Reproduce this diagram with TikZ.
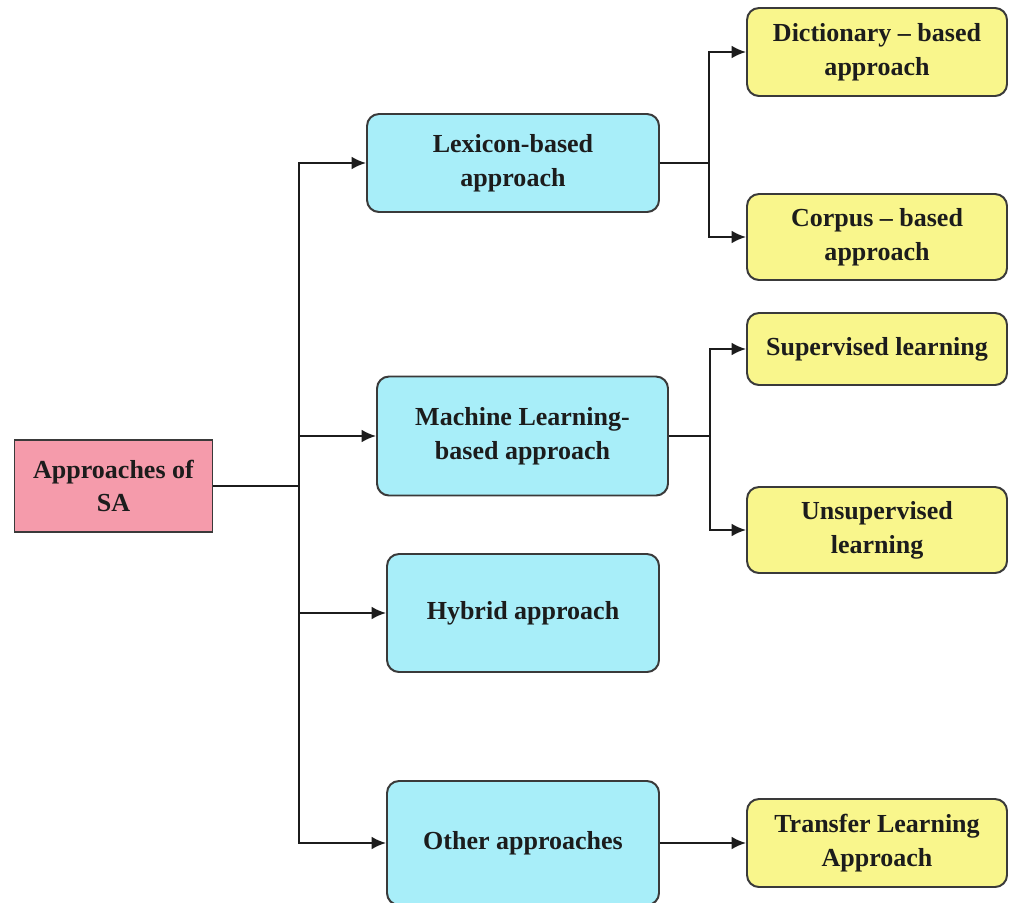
\documentclass[tikz,border=0pt]{standalone}
\usepackage{fontspec}
\setmainfont{Liberation Serif}
\usetikzlibrary{arrows.meta}

\definecolor{rootpink}{HTML}{F59BAB}
\definecolor{midcyan}{HTML}{A8EEF9}
\definecolor{leafyellow}{HTML}{F9F68C}
\definecolor{edgegray}{HTML}{3A3A3A}
\definecolor{inkdark}{HTML}{1C1C1C}

\tikzset{
  basebox/.style={draw=edgegray, line width=1.4pt, align=center, inner sep=0pt,
    text=inkdark, font=\fontsize{18.5}{24}\selectfont\bfseries},
  rootbox/.style={basebox, fill=rootpink},
  midbox/.style={basebox, fill=midcyan, rounded corners=3mm},
  leafbox/.style={basebox, fill=leafyellow, rounded corners=3mm,
    minimum width=65mm},
  link/.style={draw=inkdark, line width=1.5pt},
  arr/.style={link, -{Latex[length=3.6mm,width=3.2mm]}}
}

\begin{document}
\begin{tikzpicture}[x=0.25mm, y=-0.25mm]
  \useasboundingbox (0,0) rectangle (1020,902);
  \fill[white] (0,0) rectangle (1020,902);
  \clip (0,0) rectangle (1020,902);

  % root
  \node[rootbox, minimum width=49.5mm, minimum height=23mm] (root) at (113.5,486)
    {Approaches of\\SA};

  % second level
  \node[midbox, minimum width=73mm, minimum height=24.5mm] (lex) at (513,163)
    {Lexicon-based\\approach};
  \node[midbox, minimum width=72.75mm, minimum height=29.75mm] (ml) at (522.5,436)
    {Machine Learning-\\based approach};
  \node[midbox, minimum width=68mm, minimum height=29.5mm] (hyb) at (523,613)
    {Hybrid approach};
  \node[midbox, minimum width=68mm, minimum height=31mm] (oth) at (523,843)
    {Other approaches};

  % leaves
  \node[leafbox, minimum height=22mm] (dict) at (877,52)
    {Dictionary -- based\\approach};
  \node[leafbox, minimum height=21.5mm] (corp) at (877,237)
    {Corpus -- based\\approach};
  \node[leafbox, minimum height=18mm] (sup) at (877,349)
    {Supervised learning};
  \node[leafbox, minimum height=21.5mm] (uns) at (877,530)
    {Unsupervised\\learning};
  \node[leafbox, minimum height=22mm] (tra) at (877,843)
    {Transfer Learning\\Approach};

  % junction points
  \coordinate (j1) at (299,486);
  \coordinate (j2) at (709,163);
  \coordinate (j3) at (710,436);

  % root to second level
  \draw[arr] (root.east) -- (j1) |- (lex.west);
  \draw[arr] (root.east) -- (j1) |- (ml.west);
  \draw[arr] (root.east) -- (j1) |- (hyb.west);
  \draw[arr] (root.east) -- (j1) |- (oth.west);

  % second level to leaves
  \draw[arr] (lex.east) -- (j2) |- (dict.west);
  \draw[arr] (lex.east) -- (j2) |- (corp.west);
  \draw[arr] (ml.east) -- (j3) |- (sup.west);
  \draw[arr] (ml.east) -- (j3) |- (uns.west);
  \draw[arr] (oth.east) -- (tra.west);
\end{tikzpicture}
\end{document}
